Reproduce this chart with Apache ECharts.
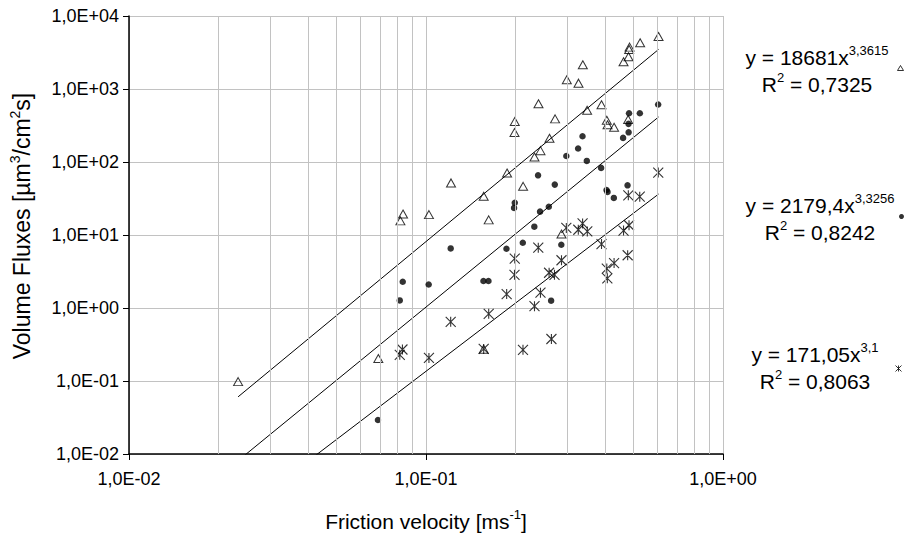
<!DOCTYPE html>
<html>
<head>
<meta charset="utf-8">
<script src="https://cdn.jsdelivr.net/npm/echarts@6/dist/echarts.min.js"></script>
<style>
  html, body { margin: 0; padding: 0; background: #fff; }
  #chart { width: 909px; height: 536px; }
</style>
</head>
<body>
<div id="chart"></div>
<script>
// friction velocity [m/s] and volume flux values
const triX = [0.0233, 0.0691, 0.0837, 0.0820, 0.1023, 0.1214, 0.1564, 0.1564, 0.1626, 0.1875,
  0.1990, 0.1986, 0.2123, 0.2319, 0.2429, 0.2392, 0.2605, 0.2720, 0.2859, 0.2979, 0.3262,
  0.3373, 0.3487, 0.3899, 0.4062, 0.4085, 0.4298, 0.4793, 0.4625, 0.4807, 0.4831, 0.4846,
  0.5260, 0.6067];
const triY = [0.098, 0.203, 19.4, 15.6, 19.0, 51.7, 33.9, 0.273, 16.1, 70.8,
  358, 253, 46.4, 117, 143, 627, 211, 390, 10.3, 1337, 1202,
  2148, 512, 607, 373, 323, 299, 382, 2361, 2767, 3483, 3745,
  4303, 5248];

const dotX = [0.0689, 0.0816, 0.0835, 0.1021, 0.1211, 0.1561, 0.1623, 0.1866, 0.1990, 0.1979,
  0.2118, 0.2384, 0.2421, 0.2591, 0.2316, 0.2714, 0.2855, 0.2638, 0.2968, 0.3252, 0.3365,
  0.3479, 0.3887, 0.4054, 0.4085, 0.4290, 0.4771, 0.4609, 0.4811, 0.4807, 0.4826, 0.5248,
  0.6049];
const dotY = [0.0292, 1.27, 2.29, 2.10, 6.55, 2.34, 2.34, 6.49, 27.7, 23.5,
  7.84, 65.7, 20.9, 24.4, 13.0, 49.0, 7.36, 1.26, 121, 153, 225,
  103.5, 83, 41.4, 38.9, 32.2, 47.9, 214, 255, 333, 466, 466,
  613];

const starX = [0.0833, 0.0816, 0.1023, 0.1211, 0.1564, 0.1626, 0.1869, 0.1986, 0.1990, 0.2121,
  0.2319, 0.2429, 0.2388, 0.2597, 0.2708, 0.2859, 0.2644, 0.2968, 0.3257, 0.3367, 0.3492,
  0.3899, 0.4062, 0.4079, 0.4298, 0.4775, 0.4625, 0.4826, 0.4800, 0.5244, 0.6053];
const starY = [0.270, 0.228, 0.207, 0.647, 0.275, 0.832, 1.55, 2.85, 4.76, 0.267,
  1.06, 1.62, 6.70, 3.04, 2.85, 4.51, 0.376, 12.5, 11.8, 14.4, 11.2,
  7.50, 3.47, 2.55, 4.13, 5.28, 11.5, 13.6, 34.9, 33.5, 71.6];

// power-law trendlines y = a * x^b shown in the legend
const fitA = [18681, 2179.4, 171.05];
const fitB = [3.3615, 3.3256, 3.1];
const fitR2 = [0.7325, 0.8242, 0.8063];

const xTicks = [0.01, 0.1, 1];
const xTickLabels = ['1,0E-02', '1,0E-01', '1,0E+00'];
const yTicks = [0.01, 0.1, 1, 10, 100, 1000, 10000];
const yTickLabels = ['1,0E-02', '1,0E-01', '1,0E+00', '1,0E+01', '1,0E+02', '1,0E+03', '1,0E+04'];

const names = ['triangles', 'dots', 'stars'];
const FONT = 'Liberation Sans, Arial, sans-serif';
const STAR = 'path://M0,0L10,10M10,0L0,10M5,0L5,10';
const GRID_GRAY = '#c2c2c2';

function tickLabel(ticks, labels) {
  return function (v) {
    for (let i = 0; i < ticks.length; i++) {
      if (Math.abs(Math.log10(ticks[i]) - Math.log10(v)) < 1e-6) return labels[i];
    }
    return '';
  };
}

function zip(xs, ys) {
  return xs.map((x, i) => [x, ys[i]]);
}

function dec(v) {
  return String(v).replace('.', ',');
}

const allX = triX.concat(dotX, starX);
const xLo = Math.min.apply(null, allX);
const xHi = Math.max.apply(null, allX);

const fitLines = fitA.map((a, i) => ({
  type: 'line',
  data: [[xLo, a * Math.pow(xLo, fitB[i])], [xHi, a * Math.pow(xHi, fitB[i])]],
  showSymbol: false,
  symbol: 'none',
  silent: true,
  clip: true,
  lineStyle: { color: '#000', width: 1 },
  z: 3
}));

// minor vertical grid lines (2..9 in each decade)
const minorX = [];
[0.01, 0.1].forEach(d => {
  for (let k = 2; k <= 9; k++) minorX.push(+(d * k).toFixed(4));
});

let myChart = echarts.init(document.getElementById('chart'), null, { renderer: 'svg' });

const sup = { s: { fontSize: 13, fontFamily: FONT, verticalAlign: 'top', lineHeight: 13 } };
const supBig = { s: { fontSize: 14, fontFamily: FONT, verticalAlign: 'top', lineHeight: 14 } };

const eqPos = [
  { x: 817, y1: 57, y2: 84 },
  { x: 820, y1: 205, y2: 232 },
  { x: 815, y1: 354, y2: 381 }
];
const legendTop = [65, 214, 363];
const legendIcon = [
  { w: 6, h: 5, style: { color: '#fff', borderColor: '#000', borderWidth: 1 } },
  { w: 5, h: 5, style: { color: '#000' } },
  { w: 7, h: 6, style: { color: 'none', borderColor: '#000', borderWidth: 1 } }
];

const graphics = [
  {
    // y axis title
    type: 'text', x: 22, y: 226, rotation: Math.PI / 2,
    style: {
      text: 'Volume Fluxes [µm{s|3}/cm{s|2}s]',
      fontSize: 23, fontFamily: FONT, fill: '#000',
      textAlign: 'center', textVerticalAlign: 'middle', lineHeight: 28, rich: supBig
    }
  }
];
fitA.forEach((a, i) => {
  graphics.push({
    type: 'text', x: eqPos[i].x, y: eqPos[i].y1,
    style: {
      text: 'y = ' + dec(a) + 'x{s|' + dec(fitB[i]) + '}',
      fontSize: 21, fontFamily: FONT, fill: '#000',
      textAlign: 'center', textVerticalAlign: 'middle', lineHeight: 26, rich: sup
    }
  });
  graphics.push({
    type: 'text', x: eqPos[i].x, y: eqPos[i].y2,
    style: {
      text: 'R{s|2} = ' + dec(fitR2[i]),
      fontSize: 21, fontFamily: FONT, fill: '#000',
      textAlign: 'center', textVerticalAlign: 'middle', lineHeight: 26, rich: sup
    }
  });
});

let option = {
  backgroundColor: '#fff',
  animation: false,
  textStyle: { fontFamily: FONT, color: '#000' },
  grid: { left: 129, right: 186, top: 16, bottom: 82, containLabel: false, outerBoundsMode: 'none' },
  legend: names.map((n, i) => ({
    data: [{ name: n, itemStyle: legendIcon[i].style }],
    right: 5,
    top: legendTop[i],
    align: 'right',
    orient: 'vertical',
    padding: 0,
    itemWidth: legendIcon[i].w,
    itemHeight: legendIcon[i].h,
    selectedMode: false,
    formatter: () => '',
    textStyle: { fontSize: 1 }
  })),
  xAxis: {
    type: 'log',
    logBase: 10,
    min: 0.01,
    max: 1,
    splitNumber: 2,
    name: 'Friction velocity [ms{s|-1}]',
    nameLocation: 'middle',
    nameGap: 54,
    nameTextStyle: {
      fontSize: 21, fontFamily: FONT, color: '#000', lineHeight: 26, rich: sup
    },
    axisLine: { show: true, onZero: false, lineStyle: { color: '#000', width: 1.5 } },
    axisTick: { show: true, length: 6, lineStyle: { color: '#000' } },
    axisLabel: {
      fontSize: 18, color: '#000', margin: 16, fontFamily: FONT,
      formatter: tickLabel(xTicks, xTickLabels)
    },
    splitLine: { show: true, lineStyle: { color: GRID_GRAY, width: 1 } },
    minorTick: { show: false },
    minorSplitLine: { show: false }
  },
  yAxis: {
    type: 'log',
    logBase: 10,
    min: 0.01,
    max: 10000,
    splitNumber: 6,
    axisLine: { show: true, onZero: false, lineStyle: { color: '#000', width: 1.5 } },
    axisTick: { show: true, length: 6, lineStyle: { color: '#000' } },
    axisLabel: {
      fontSize: 18, color: '#000', margin: 10, fontFamily: FONT,
      formatter: tickLabel(yTicks, yTickLabels)
    },
    splitLine: { show: true, lineStyle: { color: GRID_GRAY, width: 1 } },
    minorTick: { show: false },
    minorSplitLine: { show: false }
  },
  graphic: graphics,
  series: [
    {
      type: 'line',
      data: [],
      silent: true,
      z: 1,
      markLine: {
        silent: true,
        symbol: 'none',
        label: { show: false },
        lineStyle: { color: GRID_GRAY, type: 'solid', width: 1 },
        data: minorX.map(v => ({ xAxis: v }))
      }
    },
    {
      name: names[0],
      type: 'scatter',
      data: zip(triX, triY),
      symbol: 'triangle',
      symbolSize: [9, 8],
      itemStyle: { color: 'transparent', borderColor: '#000', borderWidth: 1 },
      z: 4
    },
    {
      name: names[1],
      type: 'scatter',
      data: zip(dotX, dotY),
      symbol: 'circle',
      symbolSize: 6.5,
      itemStyle: { color: '#000' },
      z: 4
    },
    {
      name: names[2],
      type: 'scatter',
      data: zip(starX, starY),
      symbol: STAR,
      symbolSize: [10, 10],
      itemStyle: { color: 'none', borderColor: '#000', borderWidth: 1.1 },
      z: 4
    }
  ].concat(fitLines)
};

myChart.setOption(option);
</script>
</body>
</html>
